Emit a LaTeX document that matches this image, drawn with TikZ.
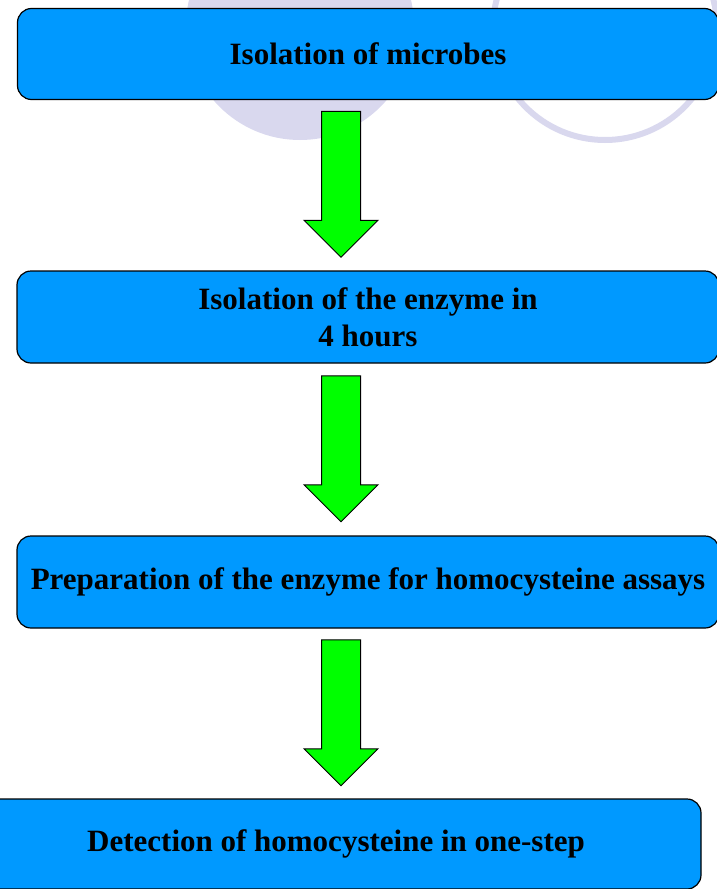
\documentclass[tikz,border=0pt]{standalone}
\usepackage{fontspec}
\setmainfont{Liberation Serif}
\usepackage{tikz}
\usetikzlibrary{shapes.arrows}

\definecolor{stepblue}{RGB}{0,153,255}
\definecolor{arrowgreen}{RGB}{0,255,0}
\definecolor{backlilac}{RGB}{217,216,238}

\begin{document}
\begin{tikzpicture}[x=1pt,y=-1pt]
            \useasboundingbox (0,0) rectangle (717,889);
            \tikzset{StepStyle/.style={draw=black,line width=1.2pt,fill=stepblue,rounded corners=14pt,
                     align=center,font=\bfseries\fontsize{31}{37}\selectfont,inner sep=0pt}};
            \tikzset{ArrowStyle/.style={single arrow,draw=black,line width=1pt,fill=arrowgreen,rotate=-90,
                     minimum height=146pt,inner xsep=0pt,inner ysep=19pt,single arrow head extend=17.5pt}};

            \fill[backlilac] (300,26) circle (114pt);
            \draw[backlilac,line width=6pt] (605,28) circle (112pt);

            \node[StepStyle,minimum width=701pt,minimum height=91pt] (microbes) at (368,54){Isolation of microbes};
            \node[StepStyle,minimum width=702pt,minimum height=92pt] (enzyme) at (368,317){Isolation of the enzyme in\\4 hours};
            \node[StepStyle,minimum width=702pt,minimum height=92pt] (prep) at (368,582){Preparation of the enzyme for homocysteine assays};
            \node[StepStyle,minimum width=730pt,minimum height=90pt] (detect) at (336,844){Detection of homocysteine in one-step};

            \node[ArrowStyle] (arr1) at (341,174.5){};
            \node[ArrowStyle] (arr2) at (341,439){};
            \node[ArrowStyle] (arr3) at (341,703){};
\end{tikzpicture}
\end{document}
